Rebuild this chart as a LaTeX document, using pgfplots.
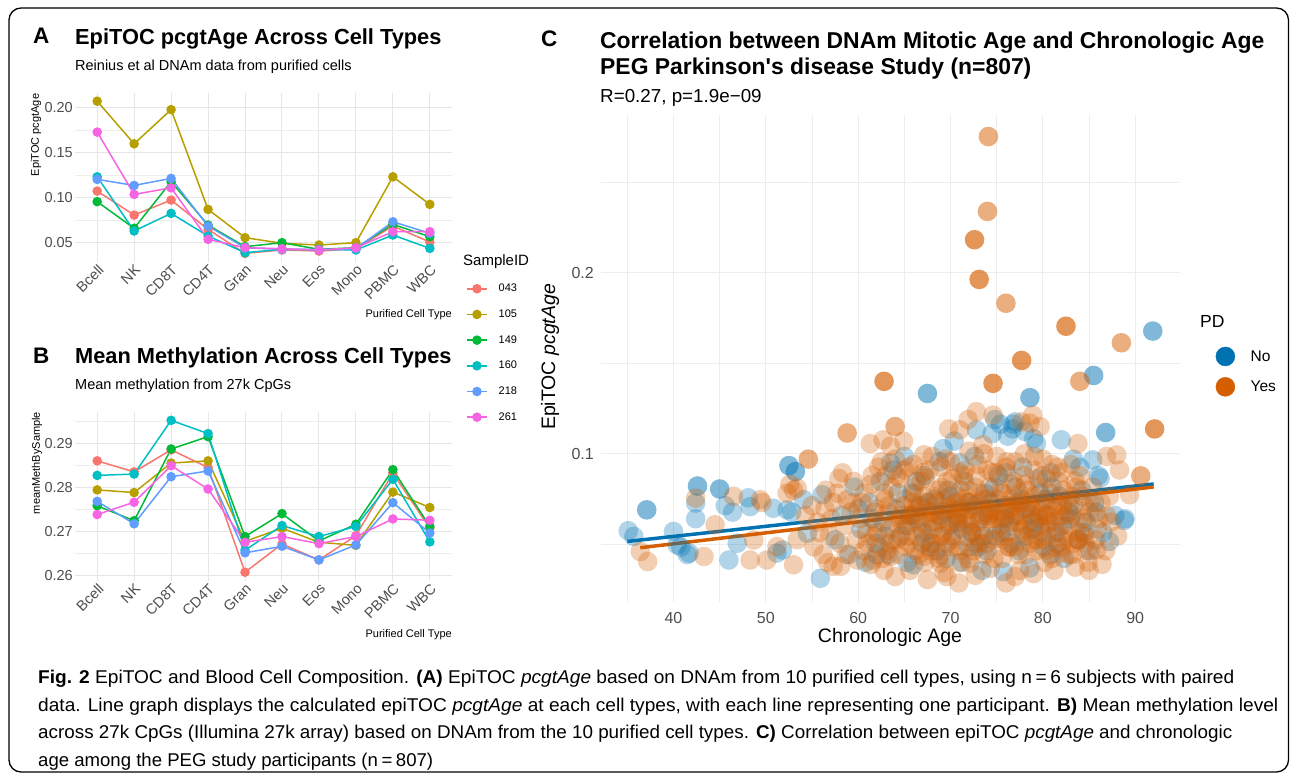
\documentclass[border=0pt]{standalone}
\usepackage{fontspec}
\setmainfont{Liberation Sans}
\newfontfamily\capfont[FakeStretch=0.86]{Liberation Sans}
\usepackage{graphicx}
\usepackage{pgfplots}
\usepackage{pgfplotstable}
\pgfplotsset{compat=1.18}
\definecolor{gray30}{HTML}{4D4D4D}
\definecolor{gridc}{HTML}{E6E6E6}
\definecolor{gridcc}{HTML}{EDEDED}
\definecolor{c043}{HTML}{F8766D}
\definecolor{c105}{HTML}{B79F00}
\definecolor{c149}{HTML}{00BA38}
\definecolor{c160}{HTML}{00BFC4}
\definecolor{c218}{HTML}{619CFF}
\definecolor{c261}{HTML}{F564E3}
\definecolor{pdno}{HTML}{0072B2}
\definecolor{pdyes}{HTML}{D55E00}
\newcommand{\fs}[1]{\fontsize{#1}{#1}\selectfont}

\pgfplotstableread{
i s043 s105 s149 s160 s218 s261
0 0.1074 0.2074 0.0956 0.1233 0.1204 0.1730
1 0.0807 0.1600 0.0660 0.0630 0.1137 0.1037
2 0.0974 0.1980 0.1178 0.0826 0.1215 0.1110
3 0.0648 0.0870 0.0696 0.0574 0.0685 0.0537
4 0.0381 0.0556 0.0456 0.0389 0.0444 0.0444
5 0.0419 0.0493 0.0500 0.0426 0.0426 0.0433
6 0.0407 0.0474 0.0426 0.0426 0.0419 0.0419
7 0.0433 0.0500 0.0444 0.0419 0.0433 0.0444
8 0.0685 0.1233 0.0704 0.0585 0.0733 0.0622
9 0.0507 0.0926 0.0567 0.0437 0.0604 0.0622
}\tabA

\pgfplotstableread{
i s043 s105 s149 s160 s218 s261
0 0.2860 0.2794 0.2758 0.2827 0.2768 0.2738
1 0.2835 0.2788 0.2724 0.2830 0.2717 0.2766
2 0.2885 0.2855 0.2887 0.2952 0.2824 0.2849
3 0.2845 0.2860 0.2915 0.2922 0.2837 0.2796
4 0.2607 0.2677 0.2688 0.2657 0.2651 0.2675
5 0.2671 0.2707 0.2740 0.2713 0.2666 0.2688
6 0.2635 0.2675 0.2678 0.2688 0.2635 0.2672
7 0.2690 0.2668 0.2716 0.2711 0.2669 0.2688
8 0.2832 0.2789 0.2840 0.2818 0.2765 0.2728
9 0.2707 0.2754 0.2711 0.2676 0.2696 0.2725
}\tabB

\pgfplotsset{
  ggline/.style={line width=1.5pt, mark=*, mark size=4pt, mark options={solid}},
  panelAB/.style={scale only axis, width=377pt, height=169pt, xmin=-0.6, xmax=9.6,
    axis line style={draw=none}, major tick length=0pt, minor tick length=0pt,
    xtick={0,...,9}, xticklabels={Bcell,NK,CD8T,CD4T,Gran,Neu,Eos,Mono,PBMC,WBC},
    grid=both, major grid style={gridc, line width=1pt}, minor grid style={gridcc, line width=0.6pt},
    xticklabel style={rotate=45, anchor=north east, font=\fs{14.5}, text=gray30, inner sep=1pt},
    yticklabel style={font=\fs{14.5}, text=gray30, inner sep=2pt},
    /pgf/number format/assume math mode=true,
    clip=false,
  },
  ptsN/.style={only marks, mark=*, mark size=9.8pt, mark options={fill=pdno, draw opacity=0, fill opacity=#1}, forget plot},
  ptsY/.style={only marks, mark=*, mark size=9.8pt, mark options={fill=pdyes, draw opacity=0, fill opacity=#1}, forget plot},
}

\begin{document}
\begin{tikzpicture}
\path[use as bounding box] (0pt,0pt) rectangle (1290pt,-774pt);

% ---------------- Panel A ----------------
\begin{axis}[panelAB, at={(75pt,-93pt)}, anchor=north west,
  ymin=0.0285, ymax=0.2165,
  ytick={0.05,0.10,0.15,0.20}, yticklabels={0.05,0.10,0.15,0.20},
  minor ytick={0.075,0.125,0.175},
  legend style={at={(1.0371,-0.13)}, anchor=north west, draw=none, fill=none, inner sep=0pt,
    row sep=16.5pt, column sep=11pt, font=\fs{11}, nodes={inner sep=0pt}},
  legend cell align=left,
  legend image code/.code={\draw[mark repeat=2,mark phase=2,#1] plot coordinates {(0pt,0pt) (10pt,0pt) (20pt,0pt)};},
]
\addplot[ggline, c043] table[x=i, y=s043] {\tabA}; \addlegendentry{043}
\addplot[ggline, c105] table[x=i, y=s105] {\tabA}; \addlegendentry{105}
\addplot[ggline, c149] table[x=i, y=s149] {\tabA}; \addlegendentry{149}
\addplot[ggline, c160] table[x=i, y=s160] {\tabA}; \addlegendentry{160}
\addplot[ggline, c218] table[x=i, y=s218] {\tabA}; \addlegendentry{218}
\addplot[ggline, c261] table[x=i, y=s261] {\tabA}; \addlegendentry{261}
\end{axis}

% ---------------- Panel B ----------------
\begin{axis}[panelAB, at={(75pt,-412pt)}, anchor=north west,
  ymin=0.2587, ymax=0.2971,
  ytick={0.26,0.27,0.28,0.29}, yticklabels={0.26,0.27,0.28,0.29},
  minor ytick={0.265,0.275,0.285,0.295},
]
\addplot[ggline, c043] table[x=i, y=s043] {\tabB};
\addplot[ggline, c105] table[x=i, y=s105] {\tabB};
\addplot[ggline, c149] table[x=i, y=s149] {\tabB};
\addplot[ggline, c160] table[x=i, y=s160] {\tabB};
\addplot[ggline, c218] table[x=i, y=s218] {\tabB};
\addplot[ggline, c261] table[x=i, y=s261] {\tabB};
\end{axis}

% ---------------- Panel C ----------------
\begin{axis}[at={(601pt,-115pt)}, anchor=north west,
  scale only axis, width=579pt, height=487pt,
  xmin=32.15, xmax=94.85, ymode=log, ymin=0.0567, ymax=0.366,
  axis line style={draw=none}, major tick length=0pt, minor tick length=0pt,
  xtick={40,50,60,70,80,90}, minor xtick={35,45,55,65,75,85},
  ytick={0.1,0.2}, yticklabels={0.1,0.2}, minor ytick={0.0707,0.1414,0.2828},
  grid=both, major grid style={gridcc, line width=1pt}, minor grid style={gridcc, line width=0.7pt},
  xticklabel style={font=\fs{16}, text=gray30, inner sep=2pt, yshift=-8pt},
  yticklabel style={font=\fs{16}, text=gray30, inner sep=2pt, xshift=-5pt},
  /pgf/number format/assume math mode=true,
  legend style={at={(1.0613,0.5246)}, anchor=north west, draw=none, fill=none, inner sep=0pt,
    row sep=11pt, column sep=15.5pt, font=\fs{15.5}, nodes={inner sep=0pt}},
  legend cell align=left,
]
% PD = No
\addplot[ptsN=0.3] table {
35.1 0.0745
35.7 0.0729
40.0 0.0743
40.4 0.0706
40.8 0.0700
41.5 0.0680
41.7 0.0684
42.4 0.0828
42.4 0.0780
45.6 0.0820
46.0 0.0666
46.4 0.0800
46.9 0.0710
48.1 0.0845
48.3 0.0817
50.8 0.0812
51.2 0.0684
51.8 0.0692
52.3 0.0807
52.8 0.0800
54.1 0.0839
54.5 0.0738
55.9 0.0621
56.1 0.0855
57.5 0.0720
58.2 0.0790
59.0 0.0680
59.6 0.0880
60.3 0.0750
60.8 0.0660
61.2 0.0830
61.9 0.0710
62.4 0.0900
62.7 0.0770
63.3 0.0680
63.5 0.0966
63.8 0.0940
64.1 0.0810
64.6 0.0730
65.0 0.0990
65.3 0.0660
65.6 0.0790
65.8 0.0860
66.0 0.0654
66.4 0.0780
66.9 0.0710
67.0 0.0740
67.2 0.0920
67.6 0.0830
68.1 0.0750
68.3 0.0840
68.5 0.0690
68.8 0.0970
69.2 0.1020
69.3 0.0800
69.7 0.0870
69.9 0.0760
70.1 0.0720
70.4 0.1050
70.8 0.0770
71.0 0.0966
71.0 0.0810
71.2 0.0660
71.5 0.0900
71.9 0.0830
72.0 0.0700
72.3 0.0740
72.6 0.0990
72.8 0.1096
73.0 0.0700
73.2 0.0780
73.4 0.0640
73.7 0.0860
74.1 0.0790
74.4 0.0830
74.5 0.1080
74.8 0.1140
74.8 0.0730
75.2 0.0920
75.4 0.1120
75.5 0.0740
75.7 0.0637
76.0 0.0820
76.2 0.1070
76.3 0.0760
76.7 0.1100
76.8 0.1120
76.9 0.0790
77.0 0.1130
77.1 0.0880
77.4 0.0690
77.8 0.0950
78.0 0.1090
78.0 0.0730
78.2 0.0810
78.6 0.0646
78.9 0.0750
79.0 0.1060
79.1 0.0770
79.3 0.1040
79.7 0.0860
80.1 0.0700
80.3 0.0840
80.5 0.0790
80.9 0.0930
81.4 0.0740
81.6 0.0710
81.8 0.0850
82.0 0.1055
82.3 0.0670
82.8 0.0800
83.0 0.0780
83.3 0.0980
83.8 0.0720
84.2 0.0870
84.7 0.0770
85.1 0.0690
85.4 0.0977
85.6 0.0830
86.0 0.0920
86.2 0.0911
86.5 0.0740
87.2 0.0715
87.8 0.0790
88.8 0.0775
88.9 0.0780
60.0 0.0810
61.5 0.0780
62.9 0.0730
64.3 0.0860
65.2 0.0760
66.7 0.0820
67.8 0.0700
68.9 0.0790
70.0 0.0850
71.3 0.0750
72.5 0.0820
73.6 0.0730
74.7 0.0880
75.8 0.0780
76.6 0.0710
77.7 0.0840
78.8 0.0790
79.9 0.0740
81.0 0.0880
82.1 0.0760
83.3 0.0820
84.5 0.0740
85.8 0.0800
62.0 0.0680
69.5 0.0670
73.9 0.0690
80.8 0.0680
66.3 0.0900
76.0 0.0930
79.5 0.0910
84.0 0.0950
};
\addplot[ptsN=0.5] table {
37.1 0.0807
42.6 0.0884
45.0 0.0874
52.5 0.0956
53.2 0.0934
67.5 0.1260
78.6 0.1240
85.5 0.1350
86.8 0.1085
91.9 0.1600
};
% PD = Yes
\addplot[ptsY=0.3] table {
36.4 0.0688
37.2 0.0662
42.4 0.0844
43.3 0.0675
44.5 0.0762
46.5 0.0850
48.3 0.0666
48.7 0.0719
49.4 0.0839
49.6 0.0830
50.1 0.0666
51.2 0.0701
52.3 0.0860
52.6 0.0890
53.0 0.0870
53.0 0.0654
53.4 0.0720
53.4 0.0877
54.3 0.0790
55.0 0.0820
55.2 0.0700
55.6 0.0770
55.8 0.0740
56.2 0.0680
56.4 0.0810
56.5 0.0870
56.7 0.0660
56.9 0.0730
57.1 0.0780
57.3 0.0830
57.3 0.0650
57.7 0.0860
57.9 0.0910
58.0 0.0710
58.1 0.0650
58.3 0.0930
58.5 0.0760
58.7 0.0680
58.8 0.0839
59.2 0.0800
59.4 0.0830
59.5 0.0900
59.8 0.0720
59.9 0.0666
60.2 0.078
60.7 0.086
61.0 0.071
61.5 0.092
61.8 0.080
62.1 0.074
62.5 0.097
62.9 0.084
63.1 0.069
63.6 0.088
63.9 0.077
64.3 0.072
64.5 0.091
64.9 0.082
65.2 0.070
65.5 0.095
65.7 0.079
66.1 0.086
66.3 0.073
66.6 0.068
66.8 0.090
67.0 0.081
67.4 0.076
67.7 0.094
67.9 0.071
68.2 0.085
68.4 0.079
68.7 0.067
69.0 0.088
69.2 0.074
69.5 0.098
69.8 0.082
70.0 0.070
70.2 0.091
70.5 0.077
70.7 0.085
71.0 0.066
71.3 0.080
71.6 0.094
71.8 0.073
72.0 0.087
72.2 0.078
72.5 0.069
72.8 0.092
73.1 0.083
73.3 0.075
73.6 0.100
73.9 0.071
74.2 0.088
74.4 0.080
74.7 0.067
75.0 0.093
75.3 0.084
75.5 0.076
75.8 0.072
76.1 0.097
76.4 0.081
76.6 0.089
76.9 0.070
77.2 0.079
77.5 0.086
77.8 0.074
78.0 0.092
78.3 0.068
78.5 0.083
78.8 0.077
79.1 0.099
79.4 0.072
79.6 0.088
79.9 0.080
80.2 0.066
80.4 0.091
80.7 0.075
81.0 0.084
81.3 0.070
81.6 0.095
81.9 0.079
82.2 0.087
82.6 0.073
82.9 0.082
83.2 0.068
83.5 0.090
83.9 0.077
84.3 0.085
84.6 0.071
85.0 0.080
85.4 0.088
85.9 0.075
86.3 0.083
86.8 0.069
87.4 0.077
88.1 0.073
62.0 0.081
63.4 0.075
64.7 0.079
65.9 0.083
66.5 0.077
67.3 0.072
67.8 0.080
68.6 0.083
69.1 0.078
69.6 0.071
70.3 0.081
70.9 0.075
71.4 0.084
71.7 0.078
72.4 0.081
72.9 0.073
73.5 0.079
74.0 0.084
74.6 0.076
75.1 0.080
75.6 0.086
76.2 0.074
76.8 0.082
77.3 0.077
77.9 0.081
78.4 0.087
78.9 0.072
79.5 0.079
80.0 0.083
80.6 0.077
81.1 0.081
81.7 0.074
82.4 0.079
83.0 0.085
83.7 0.072
84.4 0.078
85.2 0.083
86.0 0.078
65.4 0.076
66.2 0.080
67.1 0.085
68.0 0.077
68.9 0.073
69.4 0.084
70.6 0.079
71.1 0.087
72.1 0.076
73.2 0.086
73.8 0.080
74.9 0.078
75.9 0.081
76.5 0.077
77.6 0.083
78.1 0.076
79.2 0.082
80.3 0.079
81.5 0.082
82.7 0.076
60.4 0.083
60.9 0.074
61.4 0.089
61.9 0.077
62.3 0.070
62.8 0.086
63.2 0.080
63.7 0.072
64.2 0.092
64.6 0.078
65.1 0.084
65.5 0.071
66.0 0.088
66.4 0.082
66.9 0.075
67.3 0.091
67.8 0.069
68.2 0.080
68.7 0.087
69.1 0.073
69.6 0.090
70.0 0.077
70.5 0.083
70.9 0.070
71.4 0.092
71.8 0.081
72.3 0.074
72.7 0.088
73.2 0.071
73.6 0.084
74.1 0.078
74.5 0.093
75.0 0.072
75.4 0.087
75.9 0.079
76.3 0.070
76.8 0.090
77.2 0.083
77.7 0.075
78.1 0.089
78.6 0.071
79.0 0.085
79.5 0.078
79.9 0.092
80.4 0.073
80.8 0.086
81.3 0.077
81.7 0.090
82.2 0.072
82.6 0.084
83.1 0.079
83.6 0.088
84.0 0.074
84.5 0.082
60.6 0.069
61.7 0.073
62.6 0.067
63.5 0.071
64.4 0.068
65.3 0.073
66.2 0.069
67.2 0.066
68.1 0.071
69.0 0.068
70.2 0.073
71.0 0.069
71.9 0.067
72.8 0.071
73.7 0.068
74.6 0.072
75.6 0.067
76.4 0.070
77.4 0.068
78.3 0.073
79.3 0.069
80.1 0.072
81.0 0.067
82.0 0.070
82.9 0.068
83.9 0.072
84.8 0.069
85.7 0.072
62.2 0.095
63.0 0.092
64.0 0.098
65.0 0.094
66.0 0.096
67.0 0.093
68.0 0.099
69.0 0.095
70.0 0.097
71.0 0.093
72.0 0.101
73.0 0.096
74.0 0.094
75.0 0.099
76.0 0.095
77.0 0.097
78.0 0.100
79.0 0.094
80.0 0.098
81.0 0.096
82.0 0.093
83.0 0.096
84.0 0.092
63.3 0.082
64.8 0.076
66.0 0.079
67.4 0.083
68.5 0.077
69.7 0.081
70.8 0.078
72.0 0.083
73.0 0.077
74.2 0.081
75.3 0.078
76.5 0.084
77.6 0.079
78.7 0.081
79.8 0.076
81.0 0.079
82.1 0.082
61.4 0.0655
62.8 0.0640
64.0 0.0625
65.6 0.0640
67.5 0.0618
69.3 0.0635
70.9 0.0610
72.7 0.0628
74.3 0.0645
76.0 0.0610
77.0 0.0625
79.0 0.0632
81.2 0.0640
83.5 0.0648
84.9 0.0660
86.4 0.0655
61.3 0.1040
62.7 0.1055
63.5 0.1030
64.9 0.1050
67.1 0.0996
69.8 0.1100
71.0 0.1096
71.9 0.1140
72.8 0.1175
73.5 0.1035
74.6 0.1160
77.7 0.1130
78.6 0.1125
78.9 0.1160
79.7 0.1110
83.8 0.1040
86.9 0.0990
88.0 0.0996
88.3 0.0940
89.4 0.0855
87.2 0.0850
86.9 0.0790
85.8 0.0692
84.5 0.0730
82.0 0.0684
69.6 0.0625
67.1 0.0675
61.6 0.0666
63.5 0.0675
68.9 0.0658
72.1 0.0658
77.5 0.0640
80.4 0.0692
83.3 0.0710
85.0 0.0640
};
\addplot[ptsY=0.5] table {
54.6 0.0980
58.8 0.1083
64.0 0.1110
74.1 0.3370
74.0 0.2530
76.0 0.1780
88.5 0.1530
84.0 0.1320
90.6 0.0919
};
\addplot[ptsY=0.65] table {
62.8 0.1320
72.6 0.2270
73.1 0.1950
82.5 0.1630
74.6 0.1310
77.7 0.1430
92.1 0.1100
};
% regression lines
\addplot[pdno, line width=3.5pt, forget plot] coordinates {(35.0,0.0715) (92.0,0.0891)};
\addplot[pdyes, line width=3.5pt, forget plot] coordinates {(36.4,0.0698) (92.0,0.0881)};
\addlegendimage{legend image code/.code={\fill[pdno] (9.5pt,0pt) circle (9.5pt);}}
\addlegendentry{No}
\addlegendimage{legend image code/.code={\fill[pdyes] (9.5pt,0pt) circle (9.5pt);}}
\addlegendentry{Yes}
\end{axis}

% ---------------- Texts ----------------
\begin{scope}[x=1pt, y=-1pt]
\draw[line width=1.3pt, rounded corners=12pt] (9,8) rectangle (1288.5,772);
% Panel A texts
\node[anchor=base west, inner sep=0] at (33,43.5) {\fs{22.5}\bfseries A};
\node[anchor=base west, inner sep=0] at (75,44) {\fs{21.8}\bfseries EpiTOC pcgtAge Across Cell Types};
\node[anchor=base west, inner sep=0] at (75,70) {\fs{14.5}Reinius et al DNAm data from purified cells};
\node[rotate=90, inner sep=0] at (36,135) {\fs{11}EpiTOC pcgtAge};
\node[anchor=base east, inner sep=0] at (452,317) {\fs{11}Purified Cell Type};
\node[anchor=base west, inner sep=0] at (463,265.5) {\fs{15}SampleID};
% Panel B texts
\node[anchor=base west, inner sep=0] at (33,363) {\fs{22.5}\bfseries B};
\node[anchor=base west, inner sep=0] at (75,363) {\fs{21.8}\bfseries Mean Methylation Across Cell Types};
\node[anchor=base west, inner sep=0] at (75,389) {\fs{14.5}Mean methylation from 27k CpGs};
\node[rotate=90, inner sep=0] at (37,463) {\fs{11}meanMethBySample};
\node[anchor=base east, inner sep=0] at (452,637) {\fs{11}Purified Cell Type};
% Panel C texts
\node[anchor=base west, inner sep=0] at (541,46) {\fs{22.5}\bfseries C};
\node[anchor=base west, inner sep=0] at (600,48) {\fs{22.9}\bfseries Correlation between DNAm Mitotic Age and Chronologic Age};
\node[anchor=base west, inner sep=0] at (600,74) {\fs{22.9}\bfseries PEG Parkinson\textquotesingle s disease Study (n=807)};
\node[anchor=base west, inner sep=0] at (600,102) {\fs{18.8}R=0.27, p=1.9e−09};
\node[rotate=90, inner sep=0] at (550,357) {\fs{19.5}EpiTOC \textit{pcgtAge}};
\node[inner sep=0] at (890,637) {\fs{19.5}Chronologic Age};
\node[anchor=base west, inner sep=0] at (1200,327) {\fs{17.5}PD};
% Caption
\node[anchor=base west, inner sep=0] at (38,683) {\resizebox{1196pt}{\height}{\capfont\fs{18.5}\textbf{Fig. 2} EpiTOC and Blood Cell Composition. \textbf{(A)} EpiTOC \textit{pcgtAge} based on DNAm from 10 purified cell types, using n\,=\,6 subjects with paired}};
\node[anchor=base west, inner sep=0] at (38,711) {\resizebox{1240pt}{\height}{\capfont\fs{18.5}data. Line graph displays the calculated epiTOC \textit{pcgtAge} at each cell types, with each line representing one participant. \textbf{B)} Mean methylation level}};
\node[anchor=base west, inner sep=0] at (38,738) {\resizebox{1194pt}{\height}{\capfont\fs{18.5}across 27k CpGs (Illumina 27k array) based on DNAm from the 10 purified cell types. \textbf{C)} Correlation between epiTOC \textit{pcgtAge} and chronologic}};
\node[anchor=base west, inner sep=0] at (38,766) {\resizebox{395pt}{\height}{\capfont\fs{18.5}age among the PEG study participants (n\,=\,807)}};
\end{scope}
\end{tikzpicture}
\end{document}
